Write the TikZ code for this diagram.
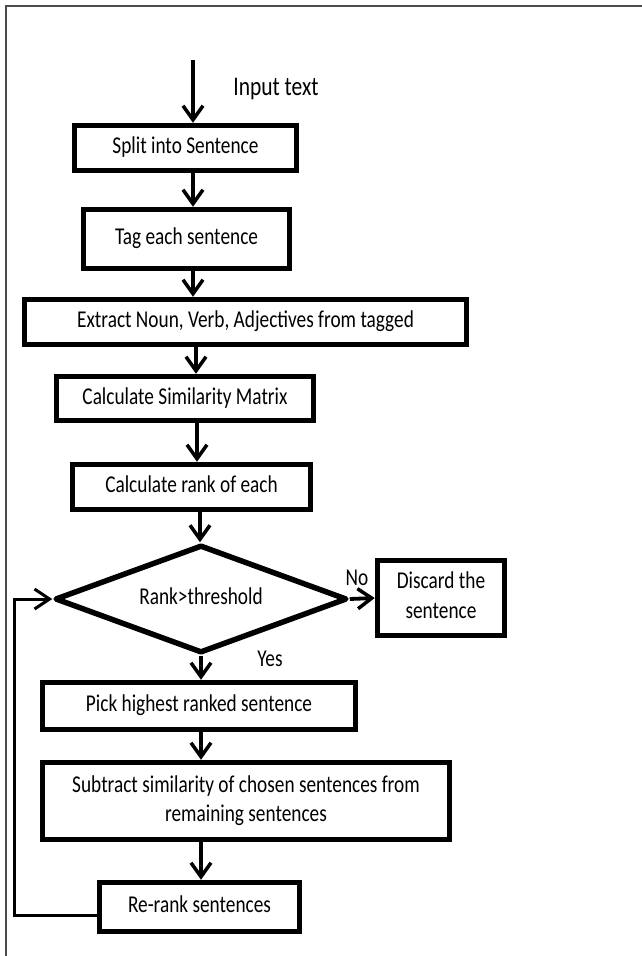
\documentclass[tikz,border=0pt]{standalone}
\usepackage{fontspec}
\setmainfont{Carlito}
\usepackage{graphicx}
\usetikzlibrary{arrows.meta,shapes.geometric}
\newcommand{\vs}[1]{\scalebox{1}[1.25]{\begin{tabular}{@{}c@{}}#1\end{tabular}}}
\begin{document}
\begin{tikzpicture}[x=1pt,y=-1pt,
  box/.style={draw, line width=5.5pt, inner sep=0pt, align=center,
    font=\fontsize{19.3}{23}\selectfont},
  arr/.style={line width=3.8pt, -{Straight Barb[length=14pt,width=20pt,line width=3.5pt]}},
  looparr/.style={line width=3pt, -{Straight Barb[length=15pt,width=20pt,line width=3pt]}},
  lbl/.style={inner sep=0pt, font=\fontsize{19.3}{23}\selectfont},
  frame/.style={line width=1.3pt, draw=black!70}]
\useasboundingbox (0,0) rectangle (642,956);
\fill[white] (0,0) rectangle (642,956);
\draw[frame] (6,956) -- (6,6) -- (642,6);

\coordinate (in) at (193,60);
\node[lbl, font=\fontsize{21.5}{25}\selectfont] (intext) at (276,89) {\vs{Input text}};

\node[box, minimum width=222pt, minimum height=45pt] (b1) at (185.5,148) {\vs{Split into Sentence}};
\node[box, minimum width=206pt, minimum height=59pt] (b2) at (186.5,239) {\vs{Tag each sentence}};
\node[box, minimum width=442pt, minimum height=45pt] (b3) at (245.5,322) {\vs{Extract Noun, Verb, Adjectives from tagged}};
\node[box, minimum width=257pt, minimum height=44pt] (b4) at (185,398.5) {\vs{Calculate Similarity Matrix}};
\node[box, minimum width=238pt, minimum height=45pt] (b5) at (191.5,487) {\vs{Calculate rank of each}};
\node[box, shape=diamond, shape aspect=4, minimum width=292pt, minimum height=108pt, line join=round] (dia) at (201,599) {\vs{Rank>threshold}};
\node[box, minimum width=127pt, minimum height=75pt] (disc) at (441,598) {\vs{Discard the\\[1pt] sentence}};
\node[box, minimum width=313pt, minimum height=47pt] (pick) at (199,706) {\vs{Pick highest ranked sentence}};
\node[box, minimum width=407pt, minimum height=77pt] (sub) at (246,801) {\vs{Subtract similarity of chosen sentences from\\ remaining sentences}};
\node[box, minimum width=200pt, minimum height=49pt] (rr) at (199.5,907) {\vs{Re-rank sentences}};

\node[lbl] (no) at (357,580) {\vs{No}};
\node[lbl] (yes) at (270,661) {\vs{Yes}};

\draw[arr] (in) -- (in |- b1.north);
\draw[arr] (b1.south -| in) -- (b2.north -| in);
\draw[arr] ([xshift=6.5pt]b2.south) -- ([xshift=6.5pt]b2.south |- b3.north);
\draw[arr] ([xshift=11pt]b4.north |- b3.south) -- ([xshift=11pt]b4.north);
\draw[arr] ([xshift=12pt]b4.south) -- ([xshift=12pt]b4.south |- b5.north);
\draw[arr] ([xshift=8.5pt]b5.south) -- ([xshift=8.5pt]b5.south |- dia.north);
\draw[arr] (dia.east) -- (disc.west);
\draw[arr] (dia.south) -- (dia.south |- pick.north);
\draw[arr] (pick.south -| dia.south) -- (sub.north -| dia.south);
\draw[arr] (sub.south -| dia.south) -- (rr.north -| dia.south);

\coordinate (lc) at (14,915);
\draw[looparr] (rr.west |- lc) -- (lc) -- (lc |- dia.west) -- (dia.west);
\end{tikzpicture}
\end{document}
